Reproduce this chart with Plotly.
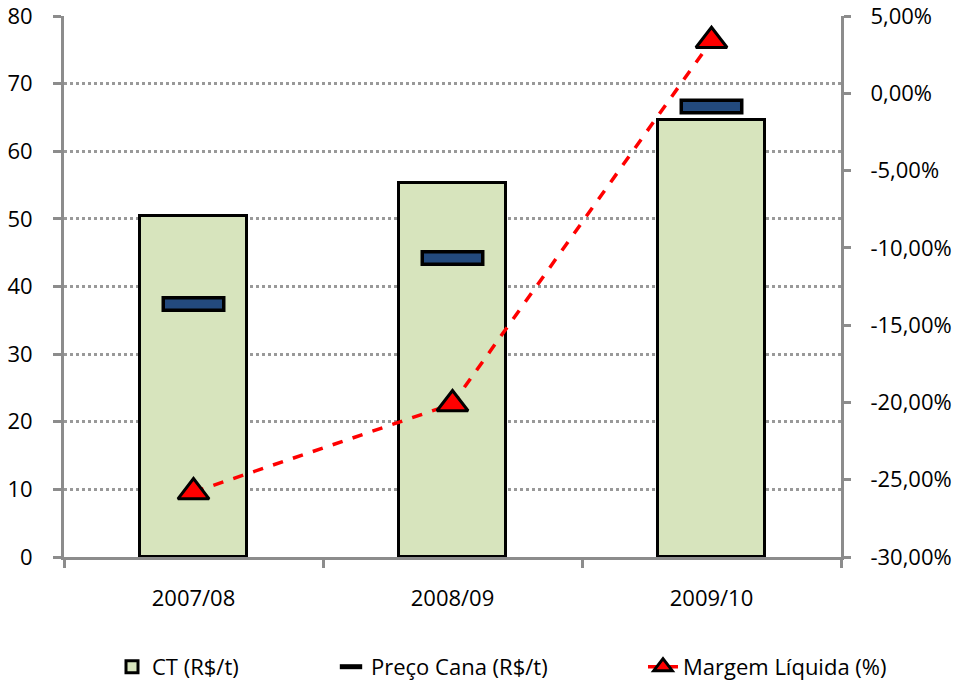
import plotly.graph_objects as go

# Safra categories and series
safras = ["2007/08", "2008/09", "2009/10"]
ct = [50.4, 55.3, 64.6]              # CT (R$/t)
preco_cana = [37.4, 44.2, 66.6]      # Preço Cana (R$/t)
margem = [-0.258, -0.201, 0.034]     # Margem Líquida (fraction)

left_ticks = list(range(0, 90, 10))
right_ticks = [-0.30, -0.25, -0.20, -0.15, -0.10, -0.05, 0.0, 0.05]
right_ticktext = ["-30,00%", "-25,00%", "-20,00%", "-15,00%", "-10,00%", "-5,00%", "0,00%", "5,00%"]

FONT = "Open Sans"
FONT_SIZE = 22
AXIS_GRAY = "#8c8c8c"

fig = go.Figure()

fig.add_trace(go.Bar(
    x=safras, y=ct, name="CT (R$/t)", width=0.41,
    marker=dict(color="#d7e4bd", line=dict(color="black", width=3)),
    yaxis="y", legend="legend",
))

# price marks: black outline drawn under a narrower blue stroke
fig.add_trace(go.Scatter(
    x=safras, y=preco_cana, name="Preço Cana (R$/t)", mode="markers",
    marker=dict(symbol="line-ew", size=45.7, color="black",
                line=dict(color="black", width=16)),
    yaxis="y", legend="legend2",
))
fig.add_trace(go.Scatter(
    x=safras, y=preco_cana, showlegend=False, mode="markers", hoverinfo="skip",
    marker=dict(symbol="line-ew", size=40.7, color="#234a7d",
                line=dict(color="#234a7d", width=9)),
    yaxis="y",
))

fig.add_trace(go.Scatter(
    x=safras, y=margem, name="Margem Líquida (%)", mode="lines+markers",
    line=dict(color="#ff0000", width=3.5, dash="dash"),
    marker=dict(symbol="triangle-up", size=27, color="#ff0000",
                line=dict(color="black", width=3)),
    yaxis="y2", legend="legend3",
))

legend_common = dict(
    orientation="h", xref="container", yref="container",
    y=0.025, xanchor="left", yanchor="middle",
    font=dict(size=FONT_SIZE, family=FONT, color="black"),
    bgcolor="rgba(0,0,0,0)",
)

fig.update_layout(
    width=958, height=684,
    margin=dict(l=64, r=117, t=16, b=127, autoexpand=False),
    paper_bgcolor="white", plot_bgcolor="white",
    font=dict(family=FONT, size=FONT_SIZE, color="black"),
    bargap=0,
    xaxis=dict(
        type="category", range=[-0.5, 2.5],
        showline=True, linecolor=AXIS_GRAY, linewidth=3,
        ticks="outside", tickson="boundaries", ticklen=8, tickwidth=3,
        tickcolor=AXIS_GRAY, ticklabelstandoff=20,
        showgrid=False, zeroline=False,
    ),
    yaxis=dict(
        range=[0, 80], tickvals=left_ticks,
        showline=True, linecolor=AXIS_GRAY, linewidth=3,
        ticks="outside", ticklen=8, tickwidth=3, tickcolor=AXIS_GRAY,
        ticklabelstandoff=16, ticklabeloverflow="allow",
        showgrid=True, gridcolor="#999999", gridwidth=2.5, griddash="dot",
        zeroline=False,
    ),
    yaxis2=dict(
        overlaying="y", side="right",
        range=[-0.30, 0.05], tickvals=right_ticks, ticktext=right_ticktext,
        showline=True, linecolor=AXIS_GRAY, linewidth=3,
        ticks="outside", ticklen=7, tickwidth=3, tickcolor=AXIS_GRAY,
        ticklabelstandoff=15, ticklabeloverflow="allow",
        showgrid=False, zeroline=False,
    ),
    legend=dict(legend_common, x=112 / 958),
    legend2=dict(legend_common, x=331 / 958),
    legend3=dict(legend_common, x=643 / 958),
    showlegend=True,
)

fig.write_html("out.html")
